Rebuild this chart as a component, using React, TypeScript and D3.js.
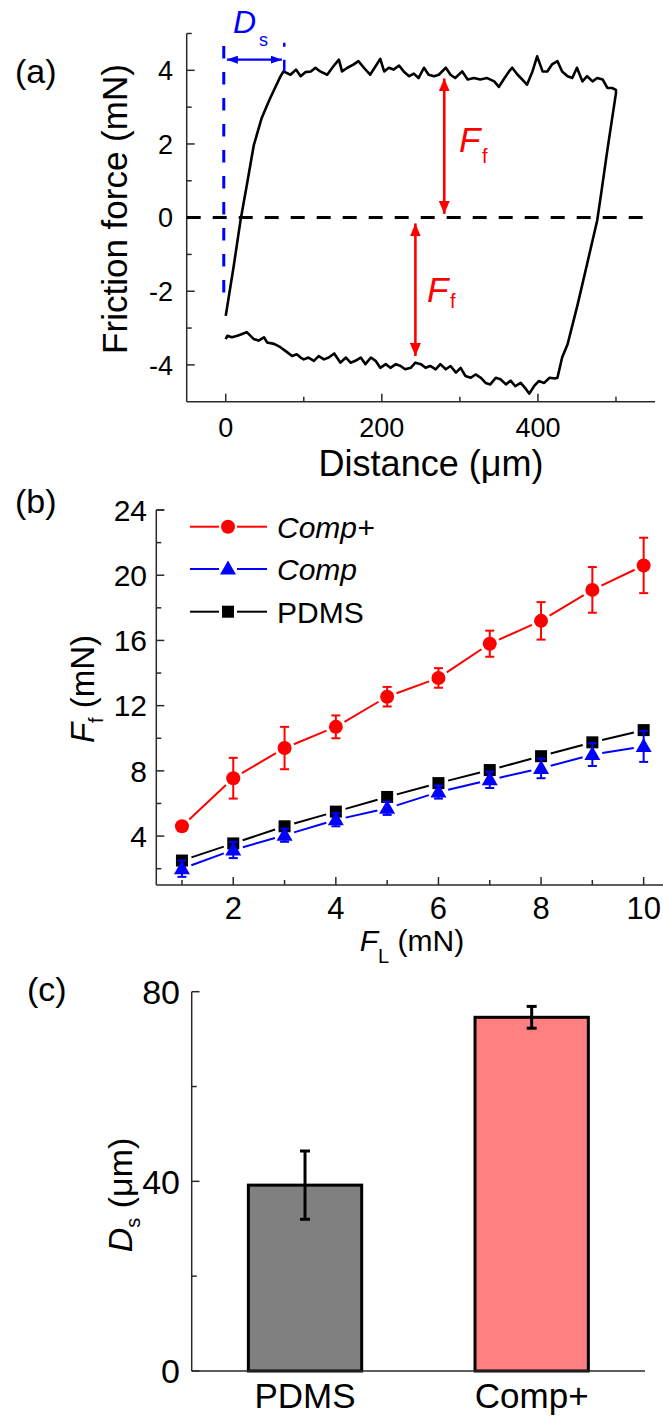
import React from "react";
import * as d3 from "d3";

const W = 663;
const H = 1416;
const FONT = "'Liberation Sans', Arial, Helvetica, sans-serif";
const AXIS = "#2a2a2a";
const RED = "#ff0000";
const BLUE = "#0000ff";

// (a) one reciprocating cycle: forward stroke (static rise + sliding) ...
const forwardDistance = [0, 10, 19, 28, 36, 46, 56, 64, 70, 74, 83, 90, 96, 102, 109, 115, 121, 130, 138, 145, 149, 156, 164, 170, 177, 185, 192, 198, 203, 209, 215, 222, 228, 235, 241, 247, 254, 260, 267, 273, 282, 288, 294, 303, 310, 318, 326, 335, 344, 350, 356, 363, 367, 374, 380, 386, 393, 399, 406, 412, 418, 425, 431, 438, 444, 450, 457, 463, 470, 476, 483, 489, 495, 500];
const forwardForce = [-2.67, -1.35, -0.07, 1.0, 1.97, 2.7, 3.2, 3.56, 3.83, 3.97, 3.88, 4.02, 3.84, 3.95, 3.97, 4.07, 3.97, 3.88, 4.11, 4.29, 3.97, 4.07, 4.16, 4.25, 4.07, 3.88, 4.11, 4.31, 3.97, 4.07, 4.02, 4.13, 3.97, 3.84, 3.91, 3.79, 4.07, 3.88, 3.84, 3.88, 4.07, 3.88, 3.79, 3.97, 3.75, 3.79, 3.75, 3.79, 3.7, 3.55, 3.75, 3.97, 4.07, 3.88, 3.75, 3.61, 3.97, 4.38, 3.97, 3.97, 4.16, 4.25, 3.97, 3.84, 3.79, 4.07, 3.7, 3.84, 3.7, 3.79, 3.75, 3.52, 3.52, 3.47];
// ... and the return stroke back to the origin
const returnDistance = [500, 489, 481, 476, 463, 451, 438, 431, 425, 422, 415, 408, 401, 395, 389, 384, 378, 371, 365, 359, 352, 346, 339, 333, 327, 320, 314, 307, 301, 295, 288, 282, 275, 269, 262, 256, 250, 243, 237, 230, 224, 218, 211, 205, 198, 192, 186, 179, 173, 166, 160, 154, 147, 139, 132, 126, 119, 113, 106, 100, 96, 91, 85, 79, 70, 62, 53, 49, 42, 36, 27, 21, 15, 8, 2, 0];
const returnForce = [3.38, 1.84, 0.65, -0.07, -1.26, -2.35, -3.44, -3.8, -4.35, -4.37, -4.35, -4.49, -4.44, -4.58, -4.78, -4.64, -4.49, -4.58, -4.43, -4.53, -4.39, -4.35, -4.53, -4.49, -4.35, -4.26, -4.35, -4.3, -4.08, -4.21, -4.03, -4.12, -3.98, -4.12, -4.03, -4.08, -3.98, -3.94, -4.08, -4.12, -4.03, -3.98, -4.08, -3.98, -4.08, -3.89, -3.8, -3.98, -3.8, -3.89, -3.94, -3.8, -3.94, -3.69, -3.8, -3.85, -3.76, -3.89, -3.8, -3.85, -3.8, -3.71, -3.76, -3.66, -3.52, -3.43, -3.39, -3.25, -3.34, -3.3, -3.11, -3.16, -3.21, -3.25, -3.21, -3.3];
const distanceTicks = [0, 200, 400];
const distanceMinor = [100, 300, 500];
const forceTicks = [-4, -2, 0, 2, 4];
const forceMinor = [-3, -1, 1, 3, 5];

// (b) friction force vs. normal load
const loads = [1, 2, 3, 4, 5, 6, 7, 8, 9, 10];
const compPlusMean = [4.6, 7.55, 9.4, 10.7, 12.55, 13.7, 15.8, 17.2, 19.1, 20.6];
const compPlusErr = [0.25, 1.25, 1.3, 0.7, 0.6, 0.6, 0.8, 1.15, 1.4, 1.7];
const compMean = [2.0, 3.15, 4.05, 5.0, 5.7, 6.7, 7.45, 8.15, 9.0, 9.5];
const compErr = [0.5, 0.5, 0.4, 0.4, 0.4, 0.4, 0.5, 0.6, 0.7, 0.95];
const pdmsMean = [2.5, 3.55, 4.6, 5.5, 6.4, 7.25, 8.05, 8.9, 9.75, 10.5];
const pdmsErr = [0.2, 0.2, 0.2, 0.2, 0.2, 0.2, 0.2, 0.2, 0.2, 0.2];
const loadTicks = [2, 4, 6, 8, 10];
const loadMinor = [1, 3, 5, 7, 9];
const ffTicks = [4, 8, 12, 16, 20, 24];
const ffMinor = [2, 6, 10, 14, 18, 22];
const seriesNames = ["Comp+", "Comp", "PDMS"];

// (c) static displacement
const barSamples = ["PDMS", "Comp+"];
const barMeans = [39.2, 74.6];
const barErrs = [7.2, 2.3];
const barColors = ["#808080", "#ff8080"];
const dsTicks = [0, 40, 80];
const dsMinor = [20, 60];

// scales
const xA = d3.scaleLinear().domain([-50, 550]).range([186.7, 655]);
const yA = d3.scaleLinear().domain([-5, 5]).range([401.7, 33.5]);
const xB = d3.scaleLinear().domain([0.5, 10.5]).range([156.3, 669.3]);
const yB = d3.scaleLinear().domain([1, 24]).range([885, 510]);
const xC = d3.scaleBand<string>().domain(barSamples).range([191.7, 645]).paddingInner(0.5).paddingOuter(0.25);
const yC = d3.scaleLinear().domain([0, 80]).range([1371, 991.7]);

function gapped(points: [number, number][], gap: number) {
  const segs: string[] = [];
  for (let i = 0; i < points.length - 1; i++) {
    const [x0, y0] = points[i];
    const [x1, y1] = points[i + 1];
    const dx = x1 - x0, dy = y1 - y0;
    const len = Math.hypot(dx, dy);
    if (len <= 2 * gap) continue;
    const ux = dx / len, uy = dy / len;
    segs.push(`M${x0 + ux * gap},${y0 + uy * gap}L${x1 - ux * gap},${y1 - uy * gap}`);
  }
  return segs.join("");
}

function Marker({ shape, x, y, color }: { shape: string; x: number; y: number; color: string }) {
  if (shape === "circle") return <circle cx={x} cy={y} r={7} fill={color} />;
  if (shape === "square") return <rect x={x - 6} y={y - 6} width={12} height={12} fill={color} />;
  return <path d={`M${x},${y - 8.5}L${x + 8},${y + 5.5}L${x - 8},${y + 5.5}Z`} fill={color} />;
}

function Series({ mean, err, color, shape }: { mean: number[]; err: number[]; color: string; shape: string }) {
  const pts: [number, number][] = loads.map((l, i) => [xB(l), yB(mean[i])]);
  return (
    <g>
      <path d={gapped(pts, 10)} stroke={color} strokeWidth={2} fill="none" />
      {loads.map((l, i) => {
        const x = xB(l);
        const y1 = yB(mean[i] + err[i]);
        const y2 = yB(mean[i] - err[i]);
        return (
          <g key={i} stroke={color} strokeWidth={2}>
            <line x1={x} x2={x} y1={y1} y2={y2} />
            <line x1={x - 4.5} x2={x + 4.5} y1={y1} y2={y1} />
            <line x1={x - 4.5} x2={x + 4.5} y1={y2} y2={y2} />
          </g>
        );
      })}
      {pts.map(([x, y], i) => (
        <Marker key={i} shape={shape} x={x} y={y} color={color} />
      ))}
    </g>
  );
}

export default function App() {
  const loopPath = d3
    .line<[number, number]>()
    .x((d) => xA(d[0]))
    .y((d) => yA(d[1]))(
    [
      ...forwardDistance.map((d, i) => [d, forwardForce[i]] as [number, number]),
      ...returnDistance.map((d, i) => [d, returnForce[i]] as [number, number]),
    ]
  );

  const series = [
    { mean: pdmsMean, err: pdmsErr, color: "#000000", shape: "square" },
    { mean: compMean, err: compErr, color: BLUE, shape: "triangle" },
    { mean: compPlusMean, err: compPlusErr, color: RED, shape: "circle" },
  ];
  const legend = [
    { name: seriesNames[0], color: RED, shape: "circle", italic: true },
    { name: seriesNames[1], color: BLUE, shape: "triangle", italic: true },
    { name: seriesNames[2], color: "#000000", shape: "square", italic: false },
  ];
  const legendRows = [526.7, 569, 611.7];

  const axisA = { left: xA.range()[0], bottom: yA.range()[0] };
  const axisB = { left: xB.range()[0], bottom: yB.range()[0] };

  return (
    <svg
      width={W}
      height={H}
      viewBox={`0 0 ${W} ${H}`}
      style={{ position: "absolute", left: 0, top: 0, background: "#fff" }}
      fontFamily={FONT}
    >
      <defs>
        <marker id="redHead" viewBox="0 0 13 11" refX={13} refY={5.5} markerWidth={13} markerHeight={11} markerUnits="userSpaceOnUse" orient="auto-start-reverse">
          <path d="M0,0L13,5.5L0,11Z" fill={RED} />
        </marker>
        <marker id="blueHead" viewBox="0 0 11 8" refX={11} refY={4} markerWidth={11} markerHeight={8} markerUnits="userSpaceOnUse" orient="auto-start-reverse">
          <path d="M0,0L11,4L0,8Z" fill={BLUE} />
        </marker>
      </defs>
      <rect width={W} height={H} fill="#fff" />

      {/* ---------- (a) ---------- */}
      <text x={15} y={83} fontSize={34}>(a)</text>
      <g stroke={AXIS} strokeWidth={1.5}>
        <line x1={axisA.left} x2={axisA.left} y1={yA(5)} y2={axisA.bottom} />
        <line x1={axisA.left} x2={xA(550)} y1={axisA.bottom} y2={axisA.bottom} />
        {forceTicks.map((t) => (
          <line key={t} x1={axisA.left} x2={axisA.left + 8} y1={yA(t)} y2={yA(t)} />
        ))}
        {forceMinor.map((t) => (
          <line key={t} x1={axisA.left} x2={axisA.left + 5} y1={yA(t)} y2={yA(t)} />
        ))}
        {distanceTicks.map((t) => (
          <line key={t} x1={xA(t)} x2={xA(t)} y1={axisA.bottom} y2={axisA.bottom - 8} />
        ))}
        {distanceMinor.map((t) => (
          <line key={t} x1={xA(t)} x2={xA(t)} y1={axisA.bottom} y2={axisA.bottom - 5} />
        ))}
      </g>
      {forceTicks.map((t) => (
        <text key={t} x={173} y={yA(t)} dy="0.36em" textAnchor="end" fontSize={27}>{t}</text>
      ))}
      {distanceTicks.map((t) => (
        <text key={t} x={xA(t)} y={437} textAnchor="middle" fontSize={27}>{t}</text>
      ))}
      <text x={431} y={476} textAnchor="middle" fontSize={36}>Distance (μm)</text>
      <text transform="translate(127,209) rotate(-90)" textAnchor="middle" fontSize={35}>Friction force (mN)</text>

      {/* zero line */}
      <line x1={axisA.left} x2={xA(535)} y1={yA(0)} y2={yA(0)} stroke="#000" strokeWidth={3} strokeDasharray="14,12" />
      {/* friction loop */}
      <path d={loopPath ?? ""} fill="none" stroke="#000" strokeWidth={2.6} strokeLinejoin="round" />

      {/* static displacement marker */}
      <line x1={xA(-2.5)} x2={xA(-2.5)} y1={yA(4.66)} y2={yA(-2.07)} stroke={BLUE} strokeWidth={3} strokeDasharray="12.5,13.5" />
      <line x1={xA(75)} x2={xA(75)} y1={yA(3.96)} y2={yA(4.75)} stroke={BLUE} strokeWidth={2.5} strokeDasharray="12,13" />
      <line x1={xA(1.5)} x2={xA(72)} y1={yA(4.29)} y2={yA(4.29)} stroke={BLUE} strokeWidth={2.2} markerStart="url(#blueHead)" markerEnd="url(#blueHead)" />
      <text x={233} y={33} fontSize={32} fill={BLUE} fontStyle="italic">D</text>
      <text x={259} y={46} fontSize={18} fill={BLUE}>s</text>

      {/* friction force arrows */}
      <line x1={xA(280)} x2={xA(280)} y1={yA(0.1)} y2={yA(3.78)} stroke={RED} strokeWidth={2.6} markerStart="url(#redHead)" markerEnd="url(#redHead)" />
      <line x1={xA(243)} x2={xA(243)} y1={yA(-0.16)} y2={yA(-3.76)} stroke={RED} strokeWidth={2.6} markerStart="url(#redHead)" markerEnd="url(#redHead)" />
      <text x={459} y={152} fontSize={35} fill={RED} fontStyle="italic">F</text>
      <text x={482} y={163} fontSize={20} fill={RED}>f</text>
      <text x={427} y={302} fontSize={35} fill={RED} fontStyle="italic">F</text>
      <text x={450} y={308} fontSize={20} fill={RED}>f</text>

      {/* ---------- (b) ---------- */}
      <text x={15} y={513} fontSize={34}>(b)</text>
      <g stroke={AXIS} strokeWidth={1.5}>
        <line x1={axisB.left} x2={axisB.left} y1={yB(24)} y2={axisB.bottom} />
        <line x1={axisB.left} x2={W} y1={axisB.bottom} y2={axisB.bottom} />
        <line x1={axisB.left} x2={axisB.left + 8} y1={yB(24)} y2={yB(24)} />
        {ffTicks.map((t) => (
          <line key={t} x1={axisB.left} x2={axisB.left + 8} y1={yB(t)} y2={yB(t)} />
        ))}
        {ffMinor.map((t) => (
          <line key={t} x1={axisB.left} x2={axisB.left + 5} y1={yB(t)} y2={yB(t)} />
        ))}
        {loadTicks.map((t) => (
          <line key={t} x1={xB(t)} x2={xB(t)} y1={axisB.bottom} y2={axisB.bottom - 8} />
        ))}
        {loadMinor.map((t) => (
          <line key={t} x1={xB(t)} x2={xB(t)} y1={axisB.bottom} y2={axisB.bottom - 5} />
        ))}
      </g>
      {ffTicks.map((t) => (
        <text key={t} x={147} y={yB(t)} dy="0.36em" textAnchor="end" fontSize={30}>{t}</text>
      ))}
      {loadTicks.map((t) => (
        <text key={t} x={xB(t)} y={919} textAnchor="middle" fontSize={31}>{t}</text>
      ))}
      <text x={412} y={951} textAnchor="middle" fontSize={30}>
        <tspan fontStyle="italic">F</tspan>
        <tspan fontSize={20} dy={12}>L</tspan>
        <tspan dy={-12}> (mN)</tspan>
      </text>
      <text transform="translate(94,689) rotate(-90)" textAnchor="middle" fontSize={33}>
        <tspan fontStyle="italic">F</tspan>
        <tspan fontSize={20} dy={9}>f</tspan>
        <tspan dy={-9}> (mN)</tspan>
      </text>

      {series.map((s, i) => (
        <Series key={i} mean={s.mean} err={s.err} color={s.color} shape={s.shape} />
      ))}

      {legend.map((l, i) => (
        <g key={l.name}>
          <line x1={190} x2={219} y1={legendRows[i]} y2={legendRows[i]} stroke={l.color} strokeWidth={2} />
          <line x1={237} x2={267} y1={legendRows[i]} y2={legendRows[i]} stroke={l.color} strokeWidth={2} />
          <Marker shape={l.shape} x={228} y={legendRows[i]} color={l.color} />
          <text x={277} y={legendRows[i]} dy="0.36em" fontSize={30} fontStyle={l.italic ? "italic" : "normal"}>{l.name}</text>
        </g>
      ))}

      {/* ---------- (c) ---------- */}
      <text x={27} y={1001} fontSize={34}>(c)</text>
      {barSamples.map((s, i) => {
        const x = xC(s) as number;
        const bw = xC.bandwidth();
        const cx = x + bw / 2;
        const top = yC(barMeans[i]);
        const e1 = yC(barMeans[i] + barErrs[i]);
        const e2 = yC(barMeans[i] - barErrs[i]);
        return (
          <g key={s}>
            <rect x={x} y={top} width={bw} height={yC(0) - top} fill={barColors[i]} stroke="#000" strokeWidth={3} />
            <g stroke="#000" strokeWidth={3}>
              <line x1={cx} x2={cx} y1={e1} y2={e2} />
              <line x1={cx - 5} x2={cx + 5} y1={e1} y2={e1} />
              <line x1={cx - 5} x2={cx + 5} y1={e2} y2={e2} />
            </g>
            <text x={cx} y={1408} textAnchor="middle" fontSize={35}>{s}</text>
          </g>
        );
      })}
      <g stroke={AXIS} strokeWidth={1.5}>
        <line x1={191.7} x2={191.7} y1={yC(80)} y2={yC(0)} />
        <line x1={191.7} x2={645} y1={yC(0)} y2={yC(0)} />
        {dsTicks.map((t) => (
          <line key={t} x1={191.7} x2={199.5} y1={yC(t)} y2={yC(t)} />
        ))}
        {dsMinor.map((t) => (
          <line key={t} x1={191.7} x2={196.7} y1={yC(t)} y2={yC(t)} />
        ))}
      </g>
      {dsTicks.map((t) => (
        <text key={t} x={180} y={yC(t)} dy="0.36em" textAnchor="end" fontSize={34}>{t}</text>
      ))}
      <text transform="translate(132,1195) rotate(-90)" textAnchor="middle" fontSize={34}>
        <tspan fontStyle="italic">D</tspan>
        <tspan fontSize={20} dy={8}>s</tspan>
        <tspan dy={-8}> (μm)</tspan>
      </text>
    </svg>
  );
}
